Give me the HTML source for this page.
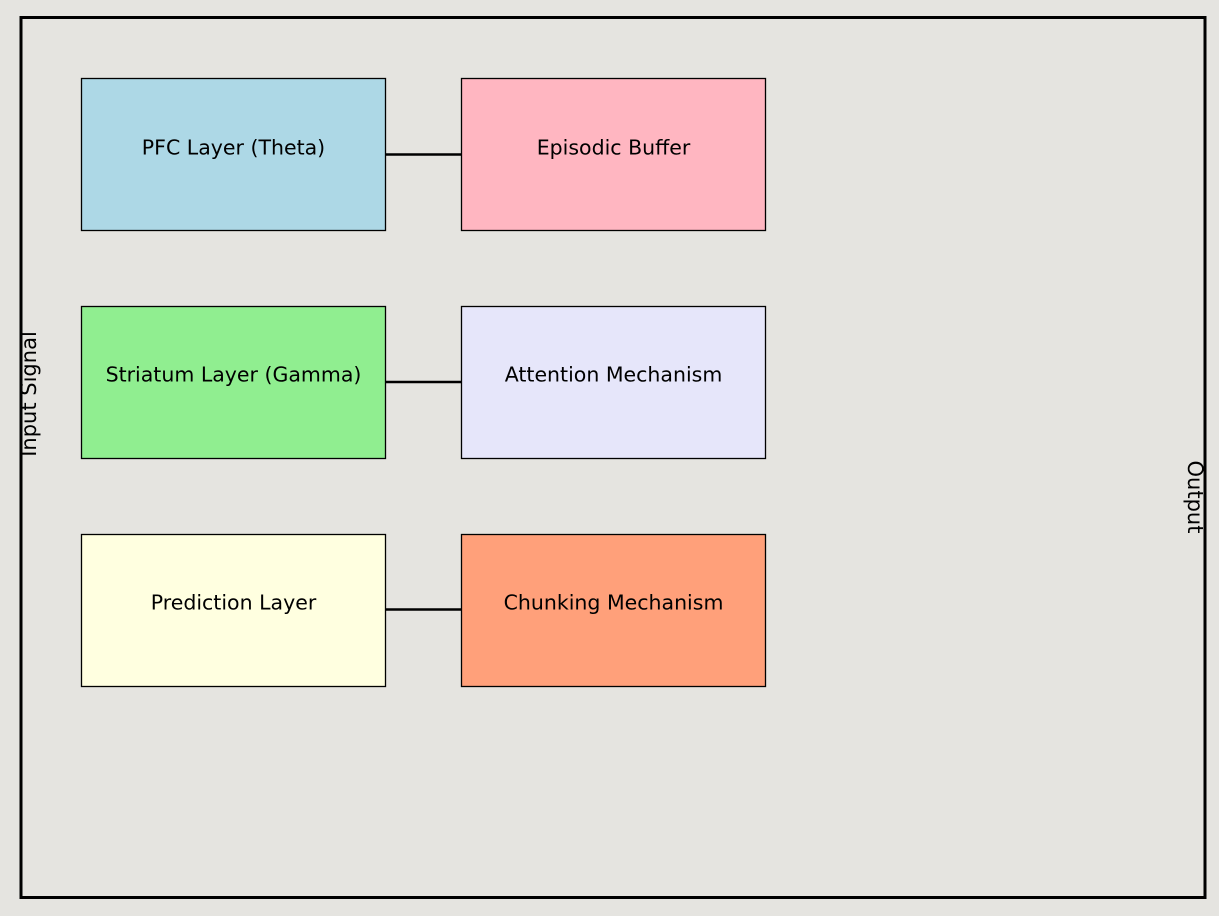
<!DOCTYPE html>
<html><head><meta charset="utf-8"><style>
html,body{margin:0;padding:0;background:#e5e4e0;}
svg{display:block;}
text{font-family:"DejaVu Sans","Liberation Sans",sans-serif;font-size:20.5px;fill:#000;}
</style></head><body>
<svg width="1219" height="916" viewBox="0 0 1219 916">
<rect x="0" y="0" width="1219" height="916" fill="#e5e4e0"/>
<rect x="21" y="17.5" width="1184" height="880" fill="none" stroke="#000" stroke-width="3"/>
<g stroke="#000" stroke-width="1.3">
<rect x="81.5" y="78.5" width="304" height="152" fill="#add8e6"/>
<rect x="461.5" y="78.5" width="304" height="152" fill="#ffb6c1"/>
<rect x="81.5" y="306.5" width="304" height="152" fill="#90ee90"/>
<rect x="461.5" y="306.5" width="304" height="152" fill="#e6e6fa"/>
<rect x="81.5" y="534.5" width="304" height="152" fill="#ffffe0"/>
<rect x="461.5" y="534.5" width="304" height="152" fill="#ffa07a"/>
</g>
<g stroke="#000" stroke-width="2.5">
<line x1="386" y1="154.5" x2="461" y2="154.5"/>
<line x1="386" y1="382" x2="461" y2="382"/>
<line x1="386" y1="609.5" x2="461" y2="609.5"/>
</g>
<g text-anchor="middle">
<text x="233.5" y="154.5">PFC Layer (Theta)</text>
<text x="613.5" y="154.5">Episodic Buffer</text>
<text x="233.5" y="381.5">Striatum Layer (Gamma)</text>
<text x="613.5" y="381.5">Attention Mechanism</text>
<text x="233.5" y="609.5">Prediction Layer</text>
<text x="613.5" y="609.5">Chunking Mechanism</text>
<text style="font-size:21px" transform="translate(36,394) rotate(-90)">Input Signal</text>
<text style="font-size:21px" transform="translate(1188,497) rotate(90)">Output</text>
</g>
</svg>
</body></html>
